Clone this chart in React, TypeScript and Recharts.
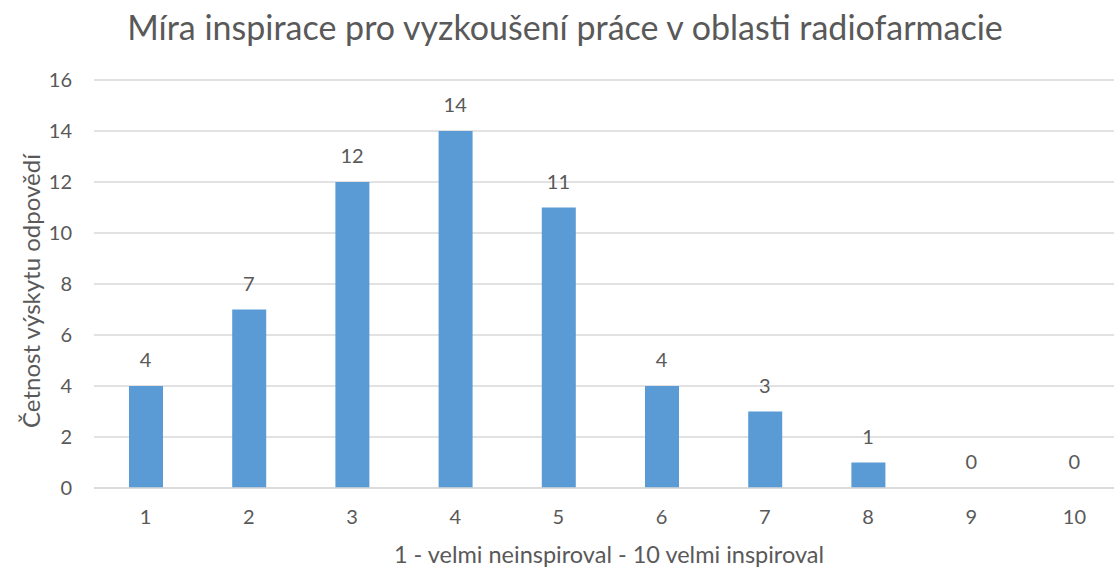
import React from 'react';
import { ComposedChart, Bar, Line, XAxis, YAxis, CartesianGrid, LabelList, Customized } from 'recharts';

const categories = ['1', '2', '3', '4', '5', '6', '7', '8', '9', '10'];
const counts = [4, 7, 12, 14, 11, 4, 3, 1, 0, 0];
const yTicks = [0, 2, 4, 6, 8, 10, 12, 14, 16];

const title = 'Míra inspirace pro vyzkoušení práce v oblasti radiofarmacie';
const xTitle = '1 - velmi neinspiroval - 10 velmi inspiroval';
const yTitle = 'Četnost výskytu odpovědí';

const data = categories.map((c, i) => ({ name: c, value: counts[i] }));

const FONT = 'Lato, "Open Sans", sans-serif';
const TEXT = '#595959';

const Titles = () => (
  <g>
    <text x={565} y={40} textAnchor="middle" fill={TEXT} fontFamily={FONT} fontSize={34}>
      {title}
    </text>
    <text x={609} y={563} textAnchor="middle" fill={TEXT} fontFamily={FONT} fontSize={23.5}>
      {xTitle}
    </text>
    <text
      x={0}
      y={0}
      transform="translate(40,291) rotate(-90)"
      textAnchor="middle"
      fill={TEXT}
      fontFamily={FONT}
      fontSize={24}
    >
      {yTitle}
    </text>
  </g>
);

export default function App() {
  return (
    <div
      style={{
        position: 'fixed',
        left: 0,
        top: 0,
        width: 1114,
        height: 569,
        overflow: 'hidden',
        background: '#fff',
      }}
    >
      <ComposedChart
        width={1130}
        height={569}
        data={data}
        margin={{ top: 80, right: 4, left: 0, bottom: 0 }}
        barCategoryGap={0}
      >
        <CartesianGrid vertical={false} stroke="#D9D9D9" strokeWidth={1.5} />
        <XAxis
          dataKey="name"
          height={81}
          axisLine={{ stroke: '#D9D9D9', strokeWidth: 1.5 }}
          tickLine={false}
          tickSize={0}
          tickMargin={22}
          tick={{ fill: TEXT, fontSize: 20, fontFamily: FONT }}
        />
        <YAxis
          width={94}
          domain={[0, 16]}
          ticks={yTicks}
          interval={0}
          axisLine={false}
          tickLine={false}
          tickSize={0}
          tickMargin={22}
          tick={{ fill: TEXT, fontSize: 20, fontFamily: FONT }}
        />
        <Bar dataKey="value" fill="#5B9BD5" barSize={34} isAnimationActive={false} />
        <Line
          dataKey="value"
          stroke="none"
          dot={false}
          activeDot={false}
          legendType="none"
          isAnimationActive={false}
        >
          <LabelList
            dataKey="value"
            position="top"
            offset={19}
            fill={TEXT}
            fontSize={20}
            fontFamily={FONT}
          />
        </Line>
        <Customized component={Titles} />
      </ComposedChart>
    </div>
  );
}
